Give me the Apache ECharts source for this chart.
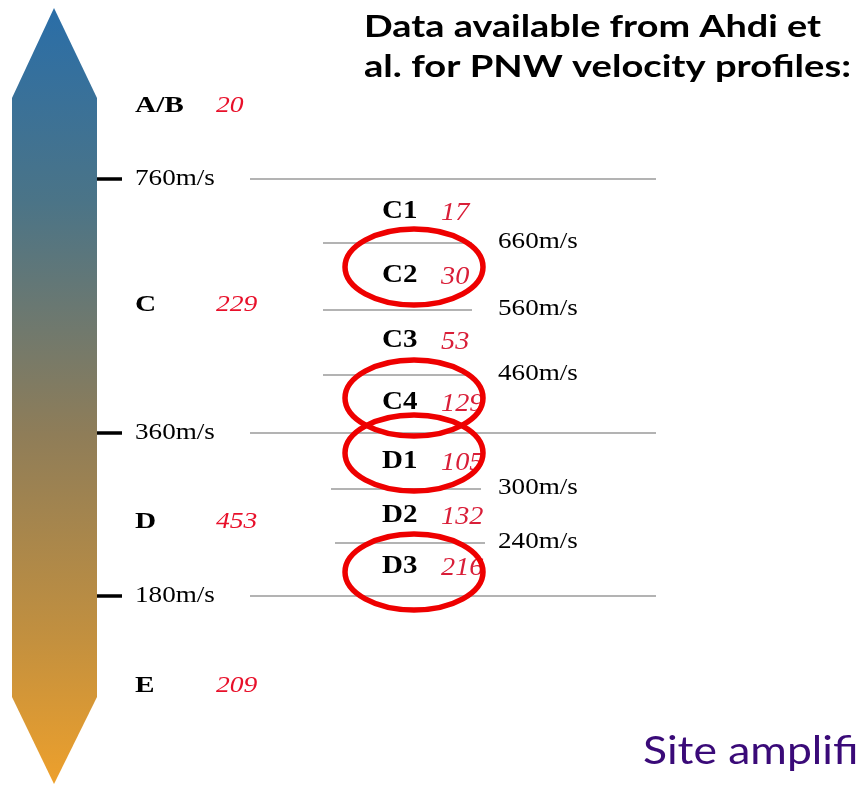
<!DOCTYPE html>
<html>
<head>
<meta charset="utf-8">
<script src="https://cdn.jsdelivr.net/npm/echarts@6/dist/echarts.min.js"></script>
<style>
  html, body { margin: 0; padding: 0; background: #fff; }
  #chart { width: 857px; height: 785px; }
</style>
</head>
<body>
<div id="chart"></div>
<script>
// site classes and number of profiles (Ahdi et al.)
const zones = ['A/B', 'C', 'D', 'E']
const zoneCounts = [20, 229, 453, 209]
const zoneBounds = [760, 360, 180]          // m/s
const subZones = ['C1', 'C2', 'C3', 'C4', 'D1', 'D2', 'D3']
const subCounts = [17, 30, 53, 129, 105, 132, 216]
const subBounds = [660, 560, 460, 300, 240] // m/s
const circled = ['C2', 'C4', 'D1', 'D3']

// schematic layout (the diagram is not to scale)
const W = 857, H = 785
const velRow = {760: 179, 660: 243, 560: 310, 460: 375, 360: 433, 300: 489, 240: 543, 180: 596}
const zoneRow = [106, 305, 522, 686]
const subRow = [212, 276, 341, 403, 462, 516, 567]
const subLineX = {660: [323, 472], 560: [323, 472], 460: [323, 472], 300: [331, 481], 240: [335, 485]}
const ringShift = {C2: -9, C4: -5, D1: -9, D3: 5}

const SERIF = '"Liberation Serif", "Times New Roman", serif'
const RED = '#e8102a'
const SUBRED = '#d91e38'

// text items: [x, y, text, font, color, stretch]
const texts = []
zones.forEach((z, i) => {
  texts.push([135, zoneRow[i], z, 'bold 24px ' + SERIF, '#000', 1.22])
  texts.push([216, zoneRow[i], String(zoneCounts[i]), 'italic 23px ' + SERIF, RED, 1.2])
})
zoneBounds.forEach(v => {
  texts.push([135, velRow[v], v + 'm/s', '23px ' + SERIF, '#000', 1.18])
})
subZones.forEach((z, i) => {
  texts.push([382, subRow[i], z, 'bold 25px ' + SERIF, '#000', 1.16])
  texts.push([441, subRow[i] + 1, String(subCounts[i]), 'italic 25px ' + SERIF, SUBRED, 1.13])
})
subBounds.forEach(v => {
  texts.push([498, velRow[v] - 1, v + 'm/s', '23px ' + SERIF, '#000', 1.18])
})

// boundary lines: [x1, x2, y]
const lines = []
zoneBounds.forEach(v => lines.push([250, 656, velRow[v]]))
subBounds.forEach(v => lines.push([subLineX[v][0], subLineX[v][1], velRow[v]]))
// ticks on the arrow
const ticks = zoneBounds.map(v => [97, 122, velRow[v]])

// ellipses around the circled classes: [cx, cy]
const ellipses = circled.map(z => [414, subRow[subZones.indexOf(z)] + ringShift[z]])

const myChart = echarts.init(document.getElementById('chart'))

const segment = (stroke, width) => (params, api) => {
  const a = api.coord([api.value(0), api.value(2)])
  const b = api.coord([api.value(1), api.value(2)])
  return {type: 'line', shape: {x1: a[0], y1: a[1], x2: b[0], y2: b[1]},
    style: {stroke: stroke, lineWidth: width}}
}

myChart.setOption({
  animation: false,
  grid: {left: 0, right: 0, top: 0, bottom: 0},
  xAxis: {type: 'value', min: 0, max: W, show: false},
  yAxis: {type: 'value', min: 0, max: H, inverse: true, show: false},
  graphic: [{
    type: 'text', x: 364, y: 27, scaleX: 1.22,
    style: {text: 'Data available from Ahdi et', font: 'bold 31px Lato', fill: '#000', textVerticalAlign: 'middle'}
  }, {
    type: 'text', x: 364, y: 67, scaleX: 1.23,
    style: {text: 'al. for PNW velocity profiles:', font: 'bold 31px Lato', fill: '#000', textVerticalAlign: 'middle'}
  }, {
    type: 'text', x: 643, y: 752, scaleX: 1.17,
    style: {text: 'Site amplification', font: '38px Lato', fill: '#3a0a78', textVerticalAlign: 'middle'}
  }],
  series: [{
    // velocity arrow
    type: 'custom',
    data: [[54, 8, 98, 697, 784]],
    renderItem: (params, api) => {
      const p = (x, y) => api.coord([x, y])
      const tip = p(54, 8), top = p(12, 98), top2 = p(97, 98), bot2 = p(97, 697), bot = p(12, 697), tail = p(54, 784)
      return {
        type: 'polygon',
        shape: {points: [tip, top2, bot2, tail, bot, top]},
        style: {
          fill: new echarts.graphic.LinearGradient(0, 0, 0, 1, [
            {offset: 0, color: '#2a6ea8'},
            {offset: 0.25, color: '#4b7487'},
            {offset: 0.55, color: '#8f7d58'},
            {offset: 0.8, color: '#c08f40'},
            {offset: 1, color: '#eda02c'}
          ])
        }
      }
    }
  }, {
    type: 'custom',
    data: lines,
    renderItem: segment('#9a9a9a', 1.5)
  }, {
    type: 'custom',
    data: ticks,
    renderItem: segment('#000', 3.5)
  }, {
    type: 'custom',
    data: texts,
    renderItem: (params, api) => {
      const t = texts[params.dataIndex]
      const c = api.coord([t[0], t[1]])
      return {type: 'text', x: c[0], y: c[1], scaleX: t[5],
        style: {text: t[2], font: t[3], fill: t[4], textAlign: 'left', textVerticalAlign: 'middle'}}
    }
  }, {
    type: 'custom',
    data: ellipses,
    z: 5,
    renderItem: (params, api) => {
      const c = api.coord([api.value(0), api.value(1)])
      return {type: 'ellipse', shape: {cx: c[0], cy: c[1], rx: 69, ry: 38},
        style: {fill: 'none', stroke: '#ee0000', lineWidth: 5.5}}
    }
  }]
})
</script>
</body>
</html>
